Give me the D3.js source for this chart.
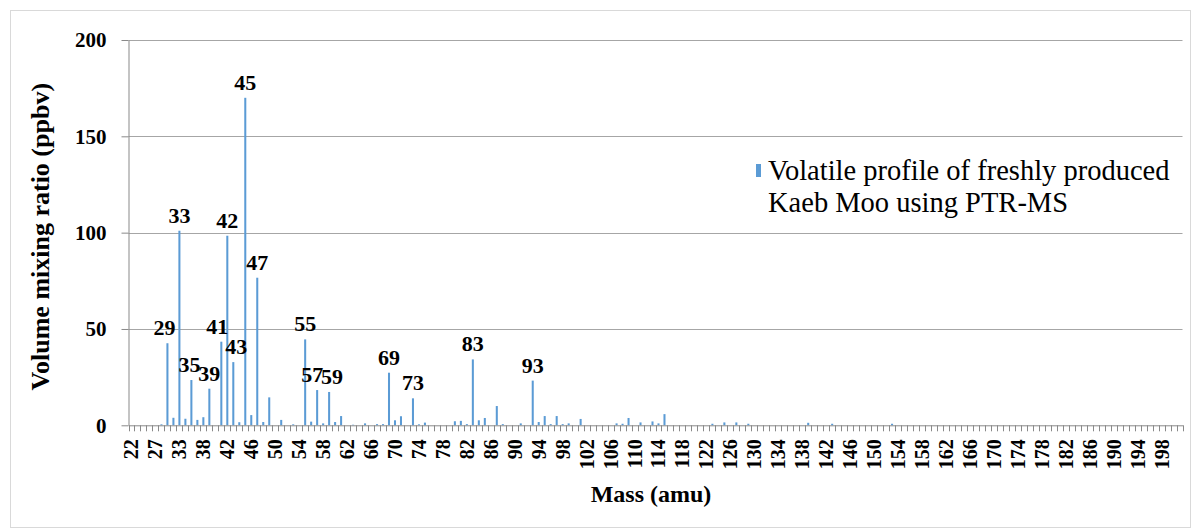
<!DOCTYPE html>
<html>
<head>
<meta charset="utf-8">
<script src="https://cdn.jsdelivr.net/npm/d3@7"></script>
<style>
  body { margin: 0; background: #fff; }
  svg text { fill: #000; }
</style>
</head>
<body>
<div id="chart"></div>
<script>
// masses on the x axis (amu) - not every mass was scanned at the low end
const masses = [22, 23, 24, 26, 27, 28, 29, 31, 33, 34, 35, 36,
  38, 39, 40, 41, 42, 43, 44, 45, 46, 47, 48, 49, 50, 51, 52, 53, 54, 55, 56, 57, 58, 59, 60,
  61, 62, 63, 64, 65, 66, 67, 68, 69, 70, 71, 72, 73, 74, 75, 76, 77, 78, 79, 80,
  81, 82, 83, 84, 85, 86, 87, 88, 89, 90, 91, 92, 93, 94, 95, 96, 97, 98, 99, 100,
  101, 102, 103, 104, 105, 106, 107, 108, 109, 110, 111, 112, 113, 114, 115, 116, 117, 118, 119, 120,
  121, 122, 123, 124, 125, 126, 127, 128, 129, 130, 131, 132, 133, 134, 135, 136, 137, 138, 139, 140,
  141, 142, 143, 144, 145, 146, 147, 148, 149, 150, 151, 152, 153, 154, 155, 156, 157, 158, 159, 160,
  161, 162, 163, 164, 165, 166, 167, 168, 169, 170, 171, 172, 173, 174, 175, 176, 177, 178, 179, 180,
  181, 182, 183, 184, 185, 186, 187, 188, 189, 190, 191, 192, 193, 194, 195, 196, 197, 198, 199, 200, 201];

// volume mixing ratio (ppbv), same order as masses
const ppbv = [0, 0, 0, 0, 0, 0.5, 42.6, 3.9, 101, 3.4, 23.5, 2.8,
  4.2, 19, 0, 43.4, 98.4, 32.8, 1.6, 170, 5.3, 76.6, 1.7, 14.5, 0, 2.8, 0, 0.5, 0, 44.6, 1.9, 18.3, 1.0, 17.3, 1.7,
  4.8, 0, 0.3, 0, 1.0, 0, 0.6, 0.6, 27.3, 2.6, 4.7, 0, 14.0, 0.5, 1.4, 0, 0, 0, 0, 2.1,
  2.3, 0.6, 34.2, 2.6, 3.8, 0, 10.0, 0.6, 0, 0, 1.0, 0, 23.2, 1.7, 4.8, 0.6, 4.8, 0.6, 1.0, 0,
  3.3, 0, 0, 0, 0, 0, 1.0, 0.8, 3.8, 0, 1.5, 0, 2.0, 1.0, 5.8, 0, 0, 0, 0, 0,
  0, 0, 0.8, 0, 1.5, 0, 1.5, 0, 0.8, 0, 0, 0, 0, 0, 0, 0, 0, 0, 1.3, 0,
  0, 0, 0.8, 0, 0, 0, 0, 0, 0, 0, 0, 0, 0.8, 0, 0, 0, 0, 0, 0, 0,
  0, 0, 0, 0, 0, 0, 0, 0, 0, 0, 0, 0, 0, 0, 0, 0, 0, 0, 0, 0,
  0, 0, 0, 0, 0, 0, 0, 0, 0, 0, 0, 0, 0, 0, 0, 0, 0, 0, 0, 0, 0];

// peaks that carry a mass label
const labelledMasses = [29, 33, 35, 39, 41, 42, 43, 45, 47, 55, 57, 59, 69, 73, 83, 93];

// x labels shown on every 4th band
const xTickMasses = masses.filter((d, i) => i % 4 === 0);

const yTicks = [0, 50, 100, 150, 200];

const legendLines = ["Volatile profile of freshly produced", "Kaeb Moo using PTR-MS"];

// small sideways nudges so labels don't sit on neighbouring bars
const labelNudge = { 29: -3, 35: -2, 41: -4, 43: 3, 57: -5, 59: 3 };

const barColor = "#5b9bd5";
const axisColor = "#898989";
const serif = "'Liberation Serif', 'Times New Roman', serif";

const W = 1201, H = 530;
const margin = { top: 40, right: 18.5, bottom: 104.7, left: 128.5 };

const data = masses.map((m, i) => ({ mass: m, value: ppbv[i] }));

const svg = d3.select("#chart").append("svg")
  .attr("width", W)
  .attr("height", H)
  .style("font-family", serif);

// chart area border
svg.append("rect")
  .attr("x", 10.5).attr("y", 10.5)
  .attr("width", 1180).attr("height", 517)
  .attr("fill", "none")
  .attr("stroke", "#d9d9d9");

const x = d3.scaleBand()
  .domain(masses)
  .range([margin.left, W - margin.right])
  .paddingInner(0.66)
  .paddingOuter(0.33);

const y = d3.scaleLinear()
  .domain([0, 200])
  .range([H - margin.bottom, margin.top]);

// gridlines
svg.append("g")
  .selectAll("line")
  .data(yTicks.filter(d => d > 0))
  .enter().append("line")
  .attr("x1", margin.left).attr("x2", W - margin.right)
  .attr("y1", d => Math.round(y(d)) + 0.5).attr("y2", d => Math.round(y(d)) + 0.5)
  .attr("stroke", "#a6a6a6");

// bars
svg.append("g")
  .selectAll("rect")
  .data(data)
  .enter().append("rect")
  .attr("x", d => x(d.mass))
  .attr("width", x.bandwidth())
  .attr("y", d => y(d.value))
  .attr("height", d => y(0) - y(d.value))
  .attr("fill", barColor);

// x axis line (labels drawn below)
const xAxis = svg.append("g")
  .attr("transform", `translate(0,${y(0)})`)
  .call(d3.axisBottom(x).tickValues([]).tickSizeOuter(0));
xAxis.select(".domain").attr("stroke", axisColor);

// minor ticks on every band boundary
const step = x.step();
const x0 = x(masses[0]) - step * x.paddingOuter();
xAxis.append("g")
  .selectAll("line")
  .data(d3.range(masses.length + 1))
  .enter().append("line")
  .attr("x1", i => Math.round(x0 + i * step) + 0.5)
  .attr("x2", i => Math.round(x0 + i * step) + 0.5)
  .attr("y1", 0).attr("y2", 6)
  .attr("stroke", axisColor);

// rotated x tick labels
svg.append("g")
  .selectAll("text")
  .data(xTickMasses)
  .enter().append("text")
  .attr("transform", d => `translate(${x(d) + x.bandwidth() / 2},${y(0) + 14}) rotate(-90)`)
  .attr("dy", "0.35em")
  .attr("text-anchor", "end")
  .style("font", `bold 20px ${serif}`)
  .text(d => d);

// y axis
const yAxis = svg.append("g")
  .attr("transform", `translate(${margin.left},0)`)
  .call(d3.axisLeft(y).tickValues(yTicks).tickSize(7).tickSizeOuter(0).tickPadding(15));
yAxis.select(".domain").attr("stroke", axisColor);
yAxis.selectAll(".tick line").attr("stroke", axisColor);
yAxis.selectAll("text").style("font", `bold 21px ${serif}`);

// peak labels
svg.append("g")
  .selectAll("text")
  .data(data.filter(d => labelledMasses.includes(d.mass)))
  .enter().append("text")
  .attr("x", d => x(d.mass) + x.bandwidth() / 2 + (labelNudge[d.mass] || 0))
  .attr("y", d => y(d.value) - 8)
  .attr("text-anchor", "middle")
  .style("font", `bold 22px ${serif}`)
  .text(d => d.mass);

// axis titles
svg.append("text")
  .attr("transform", `translate(40,${(y(0) + y(200)) / 2 + 4}) rotate(-90)`)
  .attr("text-anchor", "middle")
  .attr("dy", "0.35em")
  .style("font", `bold 26px ${serif}`)
  .text("Volume mixing ratio (ppbv)");

svg.append("text")
  .attr("x", 651)
  .attr("y", 502)
  .attr("text-anchor", "middle")
  .style("font", `bold 24px ${serif}`)
  .text("Mass (amu)");

// legend
const legend = svg.append("g").attr("transform", "translate(756,164)");
legend.append("rect")
  .attr("width", 5).attr("height", 13)
  .attr("fill", barColor);
legend.selectAll("text")
  .data(legendLines)
  .enter().append("text")
  .attr("x", 12)
  .attr("y", (d, i) => 16 + i * 32)
  .style("font", `28.5px ${serif}`)
  .text(d => d);
</script>
</body>
</html>
